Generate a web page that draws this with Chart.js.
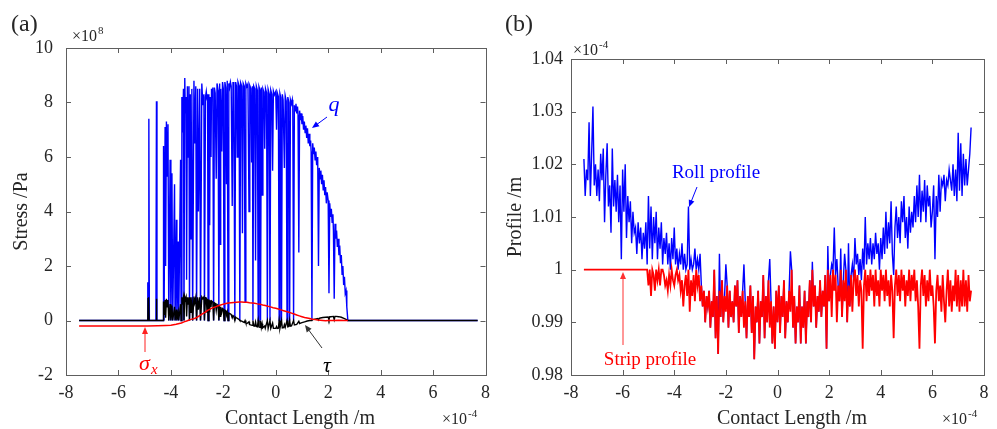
<!DOCTYPE html>
<html>
<head>
<meta charset="utf-8">
<script src="https://cdn.jsdelivr.net/npm/chart.js@4.4.1/dist/chart.umd.min.js"></script>
<style>
html, body { margin: 0; padding: 0; background: #fff; }
#wrapA { position: absolute; left: 0; top: 0; width: 497px; height: 429px; }
#wrapB { position: absolute; left: 497px; top: 0; width: 500px; height: 429px; }
</style>
</head>
<body>
<div id="wrapA"><canvas id="chartA" width="497" height="429"></canvas></div>
<div id="wrapB"><canvas id="chartB" width="500" height="429"></canvas></div>
<script>
// ---- (a) stresses: [x in 1e-4 m, stress in 1e8 Pa] ----
const qPts = [
    [-7.5, 0], [-4.9, 0], [-4.88, 1.4], [-4.86, 0], [-4.84, 7.4], [-4.82, 0], [-4.57, 0], [-4.55, 8.05], [-4.53, 0],
    [-4.3, 0], [-4.28, 6.4], [-4.26, 0], [-4.22, 7.1], [-4.2, 2.0], [-4.17, 7.3], [-4.14, 5.3], [-4.11, 7.2], [-4.08, 0],
    [-4.03, 5.9], [-4.0, 0], [-3.96, 5.4], [-3.93, 0], [-3.86, 5.0], [-3.84, 0], [-3.79, 3.7], [-3.77, 0], [-3.72, 2.9],
    [-3.70, 0], [-3.63, 5.9], [-3.61, 0], [-3.58, 8.2], [-3.55, 6.9], [-3.52, 8.5], [-3.50, 0], [-3.47, 8.9], [-3.45, 7.6],
    [-3.42, 8.2], [-3.40, 1.5], [-3.37, 8.6], [-3.34, 6.0], [-3.31, 8.6], [-3.29, 0], [-3.26, 8.3], [-3.23, 3.0], [-3.20, 8.5],
    [-3.17, 0], [-3.12, 8.8], [-3.09, 6.5], [-3.05, 8.6], [-3.02, 0], [-2.98, 8.5], [-2.95, 4.0], [-2.90, 8.5], [-2.87, 0],
    [-2.82, 8.7], [-2.78, 7.9], [-2.74, 8.3], [-2.72, 0],
    [-2.68, 8.2], [-2.65, 8.4], [-2.62, 8.1], [-2.60, 8.3], [-2.58, 0], [-2.55, 8.3], [-2.52, 3.5], [-2.50, 8.2], [-2.47, 6.0],
    [-2.45, 8.5], [-2.42, 8.25], [-2.40, 8.55], [-2.37, 0], [-2.34, 8.55], [-2.31, 8.35], [-2.27, 5.2], [-2.24, 8.7], [-2.20, 8.45],
    [-2.17, 0], [-2.14, 8.7], [-2.12, 2.8], [-2.10, 8.5], [-2.06, 6.2], [-2.03, 8.75], [-2.00, 8.5], [-1.97, 0], [-1.94, 8.75],
    [-1.91, 8.55], [-1.88, 5.0], [-1.85, 8.8], [-1.82, 0], [-1.79, 8.7], [-1.76, 8.55], [-1.73, 8.75], [-1.70, 8.6], [-1.66, 4.2],
    [-1.63, 8.75], [-1.60, 8.6], [-1.56, 0], [-1.53, 8.75], [-1.50, 8.6], [-1.47, 6.0], [-1.44, 8.75], [-1.40, 8.62], [-1.37, 0],
    [-1.34, 8.72], [-1.30, 8.6], [-1.27, 3.2], [-1.24, 8.7], [-1.20, 8.6], [-1.17, 0.7], [-1.14, 8.7], [-1.10, 8.58], [-1.06, 8.68],
    [-1.02, 4.0], [-0.99, 8.62], [-0.95, 8.52], [-0.92, 5.8], [-0.89, 8.6], [-0.87, 0], [-0.84, 8.6], [-0.80, 8.5], [-0.77, 2.2],
    [-0.74, 8.6], [-0.70, 8.45], [-0.67, 0], [-0.64, 8.58], [-0.60, 8.45], [-0.58, 0], [-0.55, 8.55], [-0.52, 4.6], [-0.49, 8.5],
    [-0.45, 8.38], [-0.42, 6.3], [-0.39, 8.5], [-0.35, 8.35], [-0.32, 0], [-0.29, 8.48], [-0.25, 8.32], [-0.22, 0], [-0.19, 8.45],
    [-0.15, 8.3], [-0.12, 5.5], [-0.09, 8.42], [-0.05, 8.28], [0.00, 8.4], [0.03, 7.0], [0.06, 8.35], [0.10, 8.22], [0.13, 0],
    [0.16, 8.32], [0.19, 8.18], [0.22, 0], [0.25, 8.3], [0.28, 8.1], [0.33, 5.6], [0.36, 8.25], [0.40, 8.05], [0.43, 0],
    [0.46, 8.2], [0.50, 8.0], [0.53, 0], [0.56, 8.1], [0.60, 7.95], [0.63, 8.1], [0.65, 7.85], [0.68, 0], [0.71, 7.9],
    [0.74, 7.7], [0.77, 7.95], [0.80, 7.6], [0.83, 7.85], [0.85, 7.55], [0.88, 2.5], [0.91, 7.7], [0.94, 7.35], [0.97, 7.6],
    [1.00, 7.2], [1.03, 7.5], [1.06, 7.0], [1.09, 7.3], [1.12, 6.9], [1.15, 7.15], [1.18, 6.7], [1.21, 7.05], [1.24, 6.5],
    [1.27, 6.85], [1.30, 6.4], [1.33, 6.6], [1.35, 6.2], [1.38, 0], [1.41, 6.5], [1.44, 6.1], [1.47, 6.35], [1.50, 5.9],
    [1.53, 6.2], [1.56, 5.7], [1.60, 6.0], [1.63, 2.0], [1.66, 5.6], [1.69, 5.2], [1.72, 5.5], [1.75, 5.0], [1.78, 5.35],
    [1.81, 4.8], [1.84, 5.15], [1.87, 4.6], [1.90, 4.9], [1.93, 4.3], [1.96, 4.7], [2.00, 4.4], [2.03, 1.0], [2.06, 4.3],
    [2.09, 3.8], [2.12, 4.1], [2.15, 3.6], [2.18, 3.9], [2.20, 3.3], [2.23, 0.8], [2.26, 3.55], [2.29, 3.0], [2.32, 3.3],
    [2.35, 2.7], [2.38, 3.0], [2.41, 2.4], [2.44, 2.75], [2.47, 2.1], [2.50, 2.4], [2.53, 1.7], [2.56, 2.0], [2.59, 1.3],
    [2.62, 1.6], [2.65, 1.0], [2.68, 1.1], [2.71, 0.5], [2.75, 0], [7.7, 0]
];

const tauPts = [
    [-7.5, 0], [-4.88, 0], [-4.87, 0.8], [-4.85, 0.85], [-4.83, 0], [-4.56, 0], [-4.55, 0.8], [-4.54, 0], [-4.29, 0],
    [-4.28, 0.7], [-4.25, 0.2], [-4.22, 0.75], [-4.2, 0.1], [-4.17, 0.8], [-4.14, 0.5], [-4.11, 0.75], [-4.08, 0],
    [-4.03, 0.6], [-4.0, 0], [-3.96, 0.55], [-3.93, 0], [-3.86, 0.5], [-3.84, 0], [-3.79, 0.4], [-3.77, 0], [-3.72, 0.3],
    [-3.70, 0], [-3.63, 0.6], [-3.61, 0], [-3.58, 0.85], [-3.55, 0.7], [-3.52, 0.85], [-3.50, 0], [-3.47, 0.85], [-3.45, 0.75],
    [-3.42, 0.85], [-3.40, 0.15], [-3.37, 0.85], [-3.34, 0.6], [-3.31, 0.85], [-3.29, 0], [-3.26, 0.85], [-3.23, 0.3],
    [-3.20, 0.85], [-3.17, 0], [-3.12, 0.88], [-3.09, 0.65], [-3.05, 0.85], [-3.02, 0], [-2.98, 0.85], [-2.95, 0.4],
    [-2.90, 0.85], [-2.87, 0], [-2.82, 0.86], [-2.78, 0.8], [-2.74, 0.86], [-2.72, 0],
    [-2.68, 0.84], [-2.65, 0.83], [-2.62, 0.3], [-2.60, 0.8], [-2.58, 0], [-2.55, 0.77], [-2.52, 0.3], [-2.50, 0.74],
    [-2.47, 0.5], [-2.45, 0.72], [-2.40, 0.68], [-2.37, 0], [-2.34, 0.65], [-2.30, 0.62], [-2.27, 0.37], [-2.24, 0.59],
    [-2.20, 0.55], [-2.17, 0], [-2.14, 0.52], [-2.12, 0.15], [-2.10, 0.5], [-2.06, 0.3], [-2.03, 0.44], [-2.00, 0.42],
    [-1.97, 0], [-1.94, 0.38], [-1.90, 0.35], [-1.88, 0.2], [-1.85, 0.31], [-1.82, 0], [-1.79, 0.27], [-1.75, 0.25],
    [-1.70, 0.22], [-1.66, 0.1], [-1.63, 0.18], [-1.60, 0.15], [-1.56, 0], [-1.53, 0.12], [-1.50, 0.1], [-1.45, 0.07],
    [-1.40, 0.04], [-1.37, 0], [-1.30, -0.02], [-1.20, -0.07], [-1.17, 0], [-1.14, -0.09], [-1.10, -0.11], [-1.02, -0.05],
    [-1.00, -0.15], [-0.90, -0.18], [-0.87, 0], [-0.84, -0.2], [-0.80, -0.21], [-0.77, -0.06], [-0.74, -0.22], [-0.70, -0.23],
    [-0.67, 0], [-0.64, -0.24], [-0.60, -0.25], [-0.58, 0], [-0.55, -0.26], [-0.52, -0.12], [-0.50, -0.27], [-0.42, -0.2],
    [-0.40, -0.28], [-0.32, 0], [-0.29, -0.29], [-0.22, 0], [-0.19, -0.29], [-0.12, -0.1], [-0.09, -0.29], [0.00, -0.29],
    [0.03, -0.22], [0.06, -0.29], [0.10, -0.28], [0.13, 0], [0.16, -0.28], [0.22, 0], [0.25, -0.27], [0.30, -0.26],
    [0.33, -0.15], [0.36, -0.25], [0.43, 0], [0.46, -0.23], [0.50, -0.22], [0.53, 0], [0.56, -0.21], [0.60, -0.2],
    [0.68, 0], [0.71, -0.16], [0.80, -0.14], [0.88, -0.03], [0.91, -0.11], [1.00, -0.08], [1.10, -0.05], [1.20, -0.02],
    [1.30, 0.0], [1.38, 0], [1.40, 0.03], [1.50, 0.05], [1.60, 0.07], [1.63, 0.02], [1.66, 0.08], [1.70, 0.09], [1.80, 0.11],
    [1.90, 0.12], [2.00, 0.13], [2.03, 0.03], [2.06, 0.14], [2.10, 0.14], [2.20, 0.15], [2.23, 0.03], [2.26, 0.15],
    [2.30, 0.15], [2.40, 0.14], [2.50, 0.12], [2.60, 0.08], [2.70, 0.03], [2.75, 0], [7.7, 0]
];

const sigPts = [
    [-7.5, -0.2], [-4.9, -0.2], [-4.5, -0.19], [-4.2, -0.18], [-4.0, -0.17], [-3.8, -0.14], [-3.6, -0.09], [-3.5, -0.05],
    [-3.4, -0.02], [-3.3, 0.02], [-3.2, 0.05], [-3.1, 0.07], [-3.0, 0.12], [-2.9, 0.18], [-2.8, 0.24], [-2.7, 0.3],
    [-2.6, 0.37], [-2.5, 0.42], [-2.4, 0.47], [-2.3, 0.5], [-2.2, 0.54], [-2.1, 0.57], [-2.0, 0.6], [-1.9, 0.62],
    [-1.8, 0.64], [-1.7, 0.65], [-1.6, 0.66], [-1.5, 0.67], [-1.4, 0.68], [-1.3, 0.68], [-1.2, 0.67], [-1.1, 0.67],
    [-1.0, 0.65], [-0.9, 0.64], [-0.8, 0.63], [-0.7, 0.61], [-0.6, 0.6], [-0.5, 0.57], [-0.4, 0.55], [-0.3, 0.52],
    [-0.2, 0.5], [-0.1, 0.47], [0.0, 0.45], [0.1, 0.42], [0.2, 0.39], [0.3, 0.36], [0.4, 0.33], [0.5, 0.3], [0.6, 0.27],
    [0.7, 0.24], [0.8, 0.2], [0.9, 0.17], [1.0, 0.14], [1.1, 0.11], [1.2, 0.09], [1.3, 0.07], [1.4, 0.05], [1.5, 0.04],
    [1.6, 0.02], [1.7, 0.01], [1.8, 0.0], [1.9, -0.01], [2.0, 0.0], [2.2, 0.0], [2.4, 0.01], [2.6, 0.0], [2.75, 0]
];

// ---- (b) profiles, x in 1e-4 m, profile in 1e-4 m ----
const profX = [
    -7.50, -7.45, -7.40, -7.35, -7.30, -7.25, -7.20, -7.15, -7.10, -7.05,
    -7.00, -6.95, -6.90, -6.85, -6.80, -6.75, -6.70, -6.65, -6.60, -6.55,
    -6.50, -6.45, -6.40, -6.35, -6.30, -6.25, -6.20, -6.15, -6.10, -6.05,
    -6.00, -5.95, -5.90, -5.85, -5.80, -5.75, -5.70, -5.65, -5.60, -5.55,
    -5.50, -5.45, -5.40, -5.35, -5.30, -5.25, -5.20, -5.15, -5.10, -5.05,
    -5.00, -4.95, -4.90, -4.85, -4.80, -4.75, -4.70, -4.65, -4.60, -4.55,
    -4.50, -4.45, -4.40, -4.35, -4.30, -4.25, -4.20, -4.15, -4.10, -4.05,
    -4.00, -3.95, -3.90, -3.85, -3.80, -3.75, -3.70, -3.65, -3.60, -3.55,
    -3.50, -3.45, -3.40, -3.35, -3.30, -3.25, -3.20, -3.15, -3.10, -3.05,
    -3.00, -2.95, -2.90, -2.85, -2.80, -2.75, -2.70, -2.65, -2.60, -2.55,
    -2.50, -2.45, -2.40, -2.35, -2.30, -2.25, -2.20, -2.15, -2.10, -2.05,
    -2.00, -1.95, -1.90, -1.85, -1.80, -1.75, -1.70, -1.65, -1.60, -1.55,
    -1.50, -1.45, -1.40, -1.35, -1.30, -1.25, -1.20, -1.15, -1.10, -1.05,
    -1.00, -0.95, -0.90, -0.85, -0.80, -0.75, -0.70, -0.65, -0.60, -0.55,
    -0.50, -0.45, -0.40, -0.35, -0.30, -0.25, -0.20, -0.15, -0.10, -0.05,
    0.00, 0.05, 0.10, 0.15, 0.20, 0.25, 0.30, 0.35, 0.40, 0.45,
    0.50, 0.55, 0.60, 0.65, 0.70, 0.75, 0.80, 0.85, 0.90, 0.95,
    1.00, 1.05, 1.10, 1.15, 1.20, 1.25, 1.30, 1.35, 1.40, 1.45,
    1.50, 1.55, 1.60, 1.65, 1.70, 1.75, 1.80, 1.85, 1.90, 1.95,
    2.00, 2.05, 2.10, 2.15, 2.20, 2.25, 2.30, 2.35, 2.40, 2.45,
    2.50, 2.55, 2.60, 2.65, 2.70, 2.75, 2.80, 2.85, 2.90, 2.95,
    3.00, 3.05, 3.10, 3.15, 3.20, 3.25, 3.30, 3.35, 3.40, 3.45,
    3.50, 3.55, 3.60, 3.65, 3.70, 3.75, 3.80, 3.85, 3.90, 3.95,
    4.00, 4.05, 4.10, 4.15, 4.20, 4.25, 4.30, 4.35, 4.40, 4.45,
    4.50, 4.55, 4.60, 4.65, 4.70, 4.75, 4.80, 4.85, 4.90, 4.95,
    5.00, 5.05, 5.10, 5.15, 5.20, 5.25, 5.30, 5.35, 5.40, 5.45,
    5.50, 5.55, 5.60, 5.65, 5.70, 5.75, 5.80, 5.85, 5.90, 5.95,
    6.00, 6.05, 6.10, 6.15, 6.20, 6.25, 6.30, 6.35, 6.40, 6.45,
    6.50, 6.55, 6.60, 6.65, 6.70, 6.75, 6.80, 6.85, 6.90, 6.95,
    7.00, 7.05, 7.10, 7.15, 7.20, 7.25, 7.30, 7.35, 7.40, 7.45,
    7.50
];
// roll profile: where the roll sits on the strip it follows the strip
const rollY = [
    1.021, 1.014, 1.019, 1.017, 1.028, 1.014, 1.022, 1.031, 1.016, 1.020,
    1.014, 1.019, 1.013, 1.022, 1.017, 1.023, 1.009, 1.018, 1.024, 1.012,
    1.016, 1.007, 1.023, 1.012, 1.017, 1.011, 1.018, 1.009, 1.016, 1.002,
    1.019, 1.011, 1.020, 1.006, 1.014, 1.009, 1.013, 1.005, 1.011, 1.007,
    1.008, 1.003, 1.009, 1.005, 1.008, 1.002, 1.007, 1.004, 1.009, 1.001,
    1.014, 1.004, 1.012, 1.002, 1.010, 1.005, 1.011, 1.002, 1.008, 1.004,
    1.009, 1.001, 1.006, 1.003, 1.007, 1.001, 1.005, 1.000, 1.006, 1.002,
    1.008, 1.001, 1.004, 1.000, 1.003, 1.001, 1.005, 1.000, 1.003, 1.000,
    1.001, 1.012, 1.000, 1.002, 1.000, 1.001, 1.004, 1.000, 1.002, 1.000,
    1.003, 0.997, 0.993, 0.996, 0.990, 0.995, 0.993, 0.996, 0.989, 0.994,
    0.991, 1.000, 0.987, 0.995, 0.984, 1.003, 0.991, 0.998, 0.990, 0.995,
    1.001, 0.997, 0.989, 0.996, 0.991, 0.994, 0.990, 0.997, 0.993, 0.998,
    0.988, 0.995, 0.991, 0.996, 1.001, 0.994, 0.987, 0.995, 0.991, 0.997,
    0.988, 0.995, 0.983, 0.993, 0.990, 0.996, 0.986, 0.994, 0.991, 0.999,
    0.987, 0.995, 0.990, 0.998, 1.002, 0.994, 0.986, 0.993, 0.985, 0.996,
    0.990, 0.997, 0.988, 0.995, 0.991, 0.998, 0.987, 0.994, 0.990, 0.996,
    1.0035, 1.000, 0.989, 0.995, 0.986, 0.993, 0.990, 0.997, 0.986, 0.993,
    0.989, 0.996, 0.986, 0.994, 0.991, 0.998, 0.990, 1.0015, 0.993, 0.997,
    0.989, 0.995, 0.992, 0.998, 0.991, 0.996, 0.993, 0.999, 0.985, 1.0045,
    0.994, 0.999, 1.001, 1.000, 1.008, 0.999, 1.002, 0.997, 0.994, 1.004,
    0.991, 0.998, 1.003, 1.000, 0.990, 1.005, 0.993, 0.999, 1.001, 0.998,
    1.006, 1.001, 1.003, 0.999, 1.002, 0.998, 1.004, 1.000, 1.010, 1.001,
    1.005, 1.002, 1.006, 1.001, 1.005, 1.002, 1.007, 1.003, 1.005, 1.000,
    1.006, 1.002, 1.008, 1.003, 1.011, 1.004, 1.009, 1.005, 1.013, 1.003,
    0.999, 1.008, 1.012, 1.006, 1.010, 1.005, 1.013, 1.009, 1.014, 1.006,
    1.010, 1.004, 1.012, 1.007, 1.011, 1.008, 1.014, 1.009, 1.016, 1.010,
    1.018, 1.009, 1.015, 1.011, 1.017, 1.009, 1.016, 1.012, 1.014, 1.008,
    1.011, 1.016, 1.002, 1.014, 1.010, 1.018, 1.011, 1.017, 1.016, 1.018,
    1.013, 1.017, 1.016, 1.019, 1.017, 1.015, 1.020, 1.014, 1.019, 1.013,
    1.026, 1.015, 1.024, 1.014, 1.022, 1.016, 1.021, 1.016, 1.019, 1.022,
    1.027
];
const stripY = [
    1.000, 1.000, 1.000, 1.000, 1.000, 1.000, 1.000, 1.000, 1.000, 1.000,
    1.000, 1.000, 1.000, 1.000, 1.000, 1.000, 1.000, 1.000, 1.000, 1.000,
    1.000, 1.000, 1.000, 1.000, 1.000, 1.000, 1.000, 1.000, 1.000, 1.000,
    1.000, 1.000, 1.000, 1.000, 1.000, 1.000, 1.000, 1.000, 1.000, 1.000,
    1.000, 1.000, 1.000, 1.000, 1.000, 1.000, 1.000, 1.000, 1.000, 1.000,
    0.997, 1.000, 0.995, 1.000, 0.999, 0.996, 1.000, 0.998, 1.000, 0.997,
    1.000, 1.000, 0.999, 0.997, 0.998, 0.996, 0.999, 0.997, 1.000, 0.998,
    0.997, 0.999, 1.000, 0.998, 0.999, 0.996, 0.998, 0.993, 0.997, 0.999,
    0.995, 1.000, 0.992, 0.998, 0.995, 0.999, 0.994, 1.000, 0.997, 0.999,
    0.994, 0.997, 0.993, 0.996, 0.990, 0.995, 0.993, 0.996, 0.989, 0.994,
    0.991, 1.000, 0.987, 0.995, 0.984, 0.996, 0.991, 0.998, 0.990, 0.995,
    0.992, 0.997, 0.989, 0.996, 0.991, 0.994, 0.990, 0.997, 0.993, 0.998,
    0.988, 0.995, 0.991, 0.996, 0.989, 0.994, 0.987, 0.995, 0.991, 0.997,
    0.988, 0.995, 0.983, 0.993, 0.990, 0.996, 0.986, 0.994, 0.991, 0.999,
    0.987, 0.995, 0.990, 0.998, 0.989, 0.994, 0.986, 0.993, 0.985, 0.996,
    0.990, 0.997, 0.988, 0.995, 0.991, 0.998, 0.987, 0.994, 0.990, 0.996,
    0.992, 1.000, 0.989, 0.995, 0.986, 0.993, 0.990, 0.997, 0.986, 0.993,
    0.989, 0.996, 0.986, 0.994, 0.991, 0.998, 0.990, 1.000, 0.993, 0.997,
    0.989, 0.995, 0.992, 0.998, 0.991, 0.996, 0.993, 0.999, 0.985, 1.000,
    0.994, 0.999, 0.991, 1.000, 0.996, 0.999, 0.990, 0.997, 0.994, 1.000,
    0.991, 0.998, 0.994, 1.000, 0.990, 0.997, 0.993, 0.999, 0.992, 0.998,
    1.000, 0.995, 0.999, 0.993, 0.998, 0.996, 0.985, 0.997, 1.000, 0.994,
    0.999, 0.995, 1.000, 0.996, 0.999, 0.993, 1.000, 0.995, 0.998, 0.993,
    1.000, 0.996, 0.999, 0.994, 1.000, 0.995, 0.998, 0.993, 0.999, 0.996,
    0.987, 0.997, 1.000, 0.995, 0.999, 0.994, 1.000, 0.996, 0.999, 0.993,
    0.998, 0.995, 1.000, 0.994, 0.999, 0.996, 1.000, 0.994, 0.998, 0.993,
    0.985, 0.997, 1.000, 0.995, 0.999, 0.993, 0.998, 0.994, 1.000, 0.995,
    0.997, 0.993, 0.986, 0.996, 0.999, 0.994, 0.997, 0.992, 0.999, 0.994,
    0.990, 0.996, 1.000, 0.993, 0.998, 0.992, 0.997, 0.994, 1.000, 0.993,
    0.999, 0.992, 0.998, 0.993, 1.000, 0.993, 0.998, 0.992, 0.999, 0.994,
    0.996
];

const stressTicks = [-2, 0, 2, 4, 6, 8, 10];
const lengthTicks = [-8, -6, -4, -2, 0, 2, 4, 6, 8];
const profileTicks = [0.98, 0.99, 1.0, 1.01, 1.02, 1.03, 1.04];
const profileTickLabels = ['0.98', '0.99', '1', '1.01', '1.02', '1.03', '1.04'];

const SERIF = '"Liberation Serif", "Times New Roman", serif';
const AXIS_GREY = '#5e5e5e';
const TEXT_COL = '#262626';

function fromPairs(pts) {
    return pts.map(p => ({ x: p[0], y: p[1] }));
}

function fromXY(xs, ys) {
    return xs.map((x, i) => ({ x: x, y: ys[i] }));
}

function lineSet(data, color, width, order) {
    return {
        data: data,
        borderColor: color,
        borderWidth: width,
        pointRadius: 0,
        fill: false,
        tension: 0,
        order: order,
    };
}

function drawArrow(ctx, x1, y1, x2, y2, color) {
    // line from (x1,y1) to the tip (x2,y2)
    const ang = Math.atan2(y2 - y1, x2 - x1);
    ctx.strokeStyle = color;
    ctx.fillStyle = color;
    ctx.lineWidth = 1;
    ctx.beginPath();
    ctx.moveTo(x1, y1);
    ctx.lineTo(x2 - 4 * Math.cos(ang), y2 - 4 * Math.sin(ang));
    ctx.stroke();
    ctx.beginPath();
    ctx.moveTo(x2, y2);
    ctx.lineTo(x2 - 7 * Math.cos(ang) + 3 * Math.sin(ang), y2 - 7 * Math.sin(ang) - 3 * Math.cos(ang));
    ctx.lineTo(x2 - 7 * Math.cos(ang) - 3 * Math.sin(ang), y2 - 7 * Math.sin(ang) + 3 * Math.cos(ang));
    ctx.closePath();
    ctx.fill();
}

function drawPower(ctx, x, baseline, base, exp, size) {
    ctx.fillStyle = TEXT_COL;
    ctx.textAlign = 'left';
    ctx.textBaseline = 'alphabetic';
    ctx.font = size + 'px ' + SERIF;
    ctx.fillText(base, x, baseline);
    const w = ctx.measureText(base).width;
    ctx.font = Math.round(size * 0.7) + 'px ' + SERIF;
    ctx.fillText(exp, x + w + 1, baseline - size * 0.45);
}

// box round the plot area with the ticks pointing inwards, like matlab
const frame = {
    id: 'frame',
    afterDraw(chart, args, opts) {
        const { ctx, chartArea: a, scales } = chart;
        ctx.save();
        ctx.strokeStyle = AXIS_GREY;
        ctx.lineWidth = 1;
        ctx.strokeRect(Math.round(a.left) + 0.5, Math.round(a.top) + 0.5,
            Math.round(a.right - a.left), Math.round(a.bottom - a.top));
        ctx.beginPath();
        scales.x.ticks.forEach(t => {
            const px = Math.round(scales.x.getPixelForValue(t.value)) + 0.5;
            ctx.moveTo(px, a.bottom); ctx.lineTo(px, a.bottom - 5);
            ctx.moveTo(px, a.top); ctx.lineTo(px, a.top + 5);
        });
        scales.y.ticks.forEach(t => {
            const py = Math.round(scales.y.getPixelForValue(t.value)) + 0.5;
            ctx.moveTo(a.left, py); ctx.lineTo(a.left + 5, py);
            ctx.moveTo(a.right, py); ctx.lineTo(a.right - 5, py);
        });
        ctx.stroke();
        if (opts.extra) opts.extra(ctx, chart);
        ctx.restore();
    }
};

const tickFont = { family: SERIF, size: 18 };
const titleFont = { family: SERIF, size: 20 };

function scaleX() {
    return {
        type: 'linear',
        min: -8,
        max: 8,
        afterBuildTicks: s => { s.ticks = lengthTicks.map(v => ({ value: v })); },
        afterFit: s => { s.height = 54; },
        grid: { display: false, drawTicks: false },
        border: { display: false },
        ticks: { font: tickFont, color: TEXT_COL, padding: 7, maxRotation: 0 },
    };
}

new Chart(document.getElementById('chartA'), {
    type: 'line',
    data: {
        datasets: [
            lineSet(fromPairs(sigPts), '#ff0000', 1.5, 1),
            lineSet(fromPairs(tauPts), '#000000', 1.4, 2),
            lineSet(fromPairs(qPts), '#0000ff', 1.4, 3),
        ]
    },
    options: {
        responsive: false,
        animation: false,
        events: [],
        layout: { padding: { left: 0, top: 48, right: 10, bottom: 0 }, autoPadding: false },
        plugins: {
            legend: { display: false },
            tooltip: { enabled: false },
            frame: {
                extra: (ctx) => {
                    ctx.fillStyle = TEXT_COL;
                    ctx.textBaseline = 'alphabetic';
                    ctx.textAlign = 'left';
                    ctx.font = '24px ' + SERIF;
                    ctx.fillText('(a)', 11, 31);
                    drawPower(ctx, 72, 41, '\u00d710', '8', 16);
                    drawPower(ctx, 442, 424, '\u00d710', '-4', 16);
                    ctx.fillStyle = TEXT_COL;
                    ctx.font = '20px ' + SERIF;
                    ctx.textAlign = 'center';
                    ctx.fillText('Contact Length /m', 300, 424);
                    // q
                    ctx.fillStyle = '#0000ff';
                    ctx.font = 'italic 22px ' + SERIF;
                    ctx.fillText('q', 334, 111);
                    drawArrow(ctx, 327, 117, 312, 128, '#0000ff');
                    // sigma_x
                    ctx.fillStyle = '#ff0000';
                    ctx.font = 'italic 22px ' + SERIF;
                    ctx.textAlign = 'left';
                    ctx.fillText('\u03c3', 139, 370);
                    ctx.font = 'italic 15px ' + SERIF;
                    ctx.fillText('x', 151, 374);
                    drawArrow(ctx, 145, 352, 145, 327, '#ff2020');
                    // tau
                    ctx.fillStyle = '#000000';
                    ctx.font = 'italic 22px ' + SERIF;
                    ctx.textAlign = 'center';
                    ctx.fillText('\u03c4', 327, 372);
                    drawArrow(ctx, 322, 348, 305, 325, '#333333');
                }
            }
        },
        scales: {
            x: scaleX(),
            y: {
                type: 'linear',
                min: -2,
                max: 10,
                afterBuildTicks: s => { s.ticks = stressTicks.map(v => ({ value: v })); },
                afterFit: s => { s.width = 66; },
                grid: { display: false, drawTicks: false },
                border: { display: false },
                ticks: { font: tickFont, color: TEXT_COL, padding: 13 },
                title: { display: true, text: 'Stress /Pa', font: titleFont, color: TEXT_COL, padding: { top: 10, bottom: 0 } },
            }
        }
    },
    plugins: [frame]
});

new Chart(document.getElementById('chartB'), {
    type: 'line',
    data: {
        datasets: [
            lineSet(fromXY(profX, stripY), '#ff0000', 1.8, 1),
            lineSet(fromXY(profX, rollY), '#0000ff', 1.4, 2),
        ]
    },
    options: {
        responsive: false,
        animation: false,
        events: [],
        layout: { padding: { left: 0, top: 59, right: 13, bottom: 0 }, autoPadding: false },
        plugins: {
            legend: { display: false },
            tooltip: { enabled: false },
            frame: {
                extra: (ctx) => {
                    ctx.fillStyle = TEXT_COL;
                    ctx.textBaseline = 'alphabetic';
                    ctx.textAlign = 'left';
                    ctx.font = '24px ' + SERIF;
                    ctx.fillText('(b)', 8, 31);
                    drawPower(ctx, 76, 55, '\u00d710', '-4', 16);
                    drawPower(ctx, 445, 424, '\u00d710', '-4', 16);
                    ctx.fillStyle = TEXT_COL;
                    ctx.font = '20px ' + SERIF;
                    ctx.textAlign = 'center';
                    ctx.fillText('Contact Length /m', 295, 424);
                    ctx.fillStyle = '#0000ff';
                    ctx.font = '19px ' + SERIF;
                    ctx.fillText('Roll profile', 219, 178);
                    drawArrow(ctx, 200, 187, 192, 207, '#0000ff');
                    ctx.fillStyle = '#ff0000';
                    ctx.fillText('Strip profile', 153, 365);
                    drawArrow(ctx, 126, 345, 126, 272, '#ff3030');
                }
            }
        },
        scales: {
            x: scaleX(),
            y: {
                type: 'linear',
                min: 0.98,
                max: 1.04,
                afterBuildTicks: s => { s.ticks = profileTicks.map(v => ({ value: v })); },
                afterFit: s => { s.width = 74; },
                grid: { display: false, drawTicks: false },
                border: { display: false },
                ticks: {
                    font: tickFont, color: TEXT_COL, padding: 8,
                    callback: (v, i) => profileTickLabels[i]
                },
                title: { display: true, text: 'Profile /m', font: titleFont, color: TEXT_COL, padding: { top: 7, bottom: 0 } },
            }
        }
    },
    plugins: [frame]
});
</script>
</body>
</html>
